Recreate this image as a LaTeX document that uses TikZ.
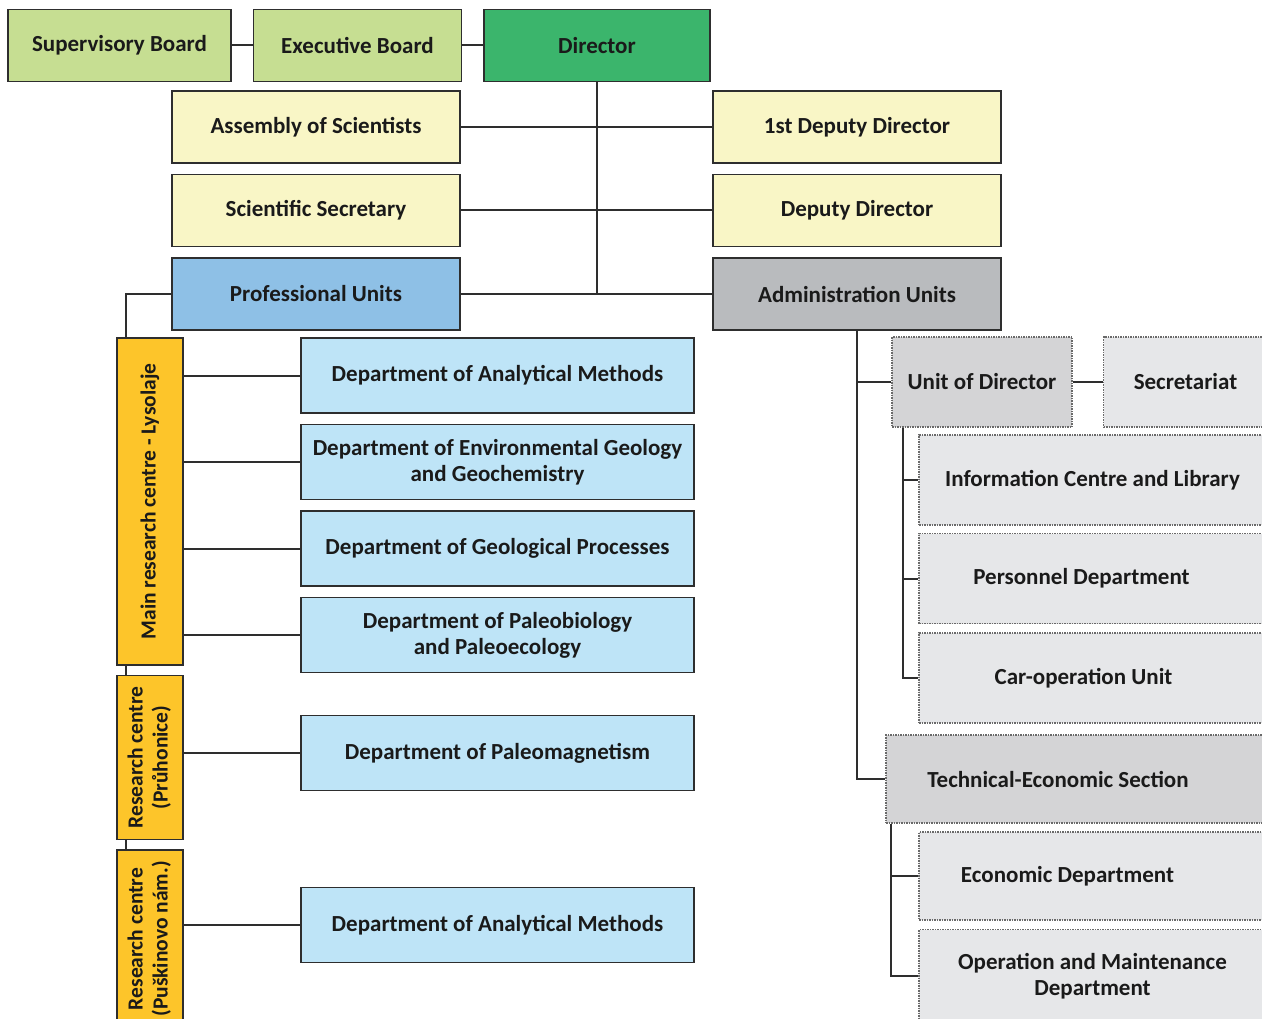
\documentclass[tikz,border=0pt]{standalone}
\usepackage{fontspec}
\setsansfont{Carlito}
\usetikzlibrary{positioning}

\definecolor{linedark}{HTML}{2E2E2E}
\definecolor{textdark}{HTML}{1A1A1A}
\definecolor{boardgreen}{HTML}{C6DE92}
\definecolor{dirgreen}{HTML}{3BB56C}
\definecolor{paleyellow}{HTML}{F9F6C6}
\definecolor{profblue}{HTML}{8EC0E6}
\definecolor{admgray}{HTML}{B9BBBE}
\definecolor{centreorange}{HTML}{FDC52A}
\definecolor{deptblue}{HTML}{BEE4F7}
\definecolor{unitgray}{HTML}{D4D4D6}
\definecolor{subgray}{HTML}{E6E7E9}
\definecolor{dotgray}{HTML}{6A6A6A}

\begin{document}
\begin{tikzpicture}[
      x=1pt, y=1pt,
      node distance=10pt and 21pt,
      every node/.style={font=\sffamily\bfseries\fontsize{23}{26}\selectfont, text=textdark},
      box/.style={draw=linedark, line width=1.5pt, rectangle, minimum height=72pt, inner sep=2pt, align=center},
      centre/.style={box, fill=centreorange, minimum width=66pt, font=\sffamily\bfseries\fontsize{21.5}{25}\selectfont},
      dept/.style={box, fill=deptblue, minimum width=393pt, minimum height=75pt},
      dbox/.style={box, draw=dotgray, densely dotted, minimum height=90pt},
      conn/.style={draw=linedark, line width=2pt}
    ]
    \useasboundingbox (0,0) rectangle (1262,-1019);

    % Nodes
    \node[box, fill=boardgreen, minimum width=223pt] (sup) at (119.5,-45.5) {Supervisory Board};
    \node[box, fill=boardgreen, minimum width=208pt, right=21pt of sup] (exe) {Executive Board};
    \node[box, fill=dirgreen, minimum width=226pt, right=21pt of exe] (dir) {Director};

    \node[box, fill=paleyellow, minimum width=288pt] (asm) at (316,-127) {Assembly of Scientists};
    \node[box, fill=paleyellow, minimum width=288pt, below=of asm] (sci) {Scientific Secretary};
    \node[box, fill=profblue, minimum width=288pt, below=of sci] (pro) {Professional Units};

    \node[box, fill=paleyellow, minimum width=288pt] (dep1) at (857,-127) {1st Deputy Director};
    \node[box, fill=paleyellow, minimum width=288pt, below=of dep1] (dep2) {Deputy Director};
    \node[box, fill=admgray, minimum width=288pt, below=of dep2] (adm) {Administration Units};

    % research centres
    \node[centre, minimum height=327pt] (main) at (150,-501.5)
      {\rotatebox{90}{Main research centre - Lysolaje}};
    \node[centre, minimum height=164pt, below=9pt of main] (pru)
      {\rotatebox{90}{\begin{tabular}{@{}c@{}}Research centre\\(Průhonice)\end{tabular}}};
    \node[centre, minimum height=178pt, below=9pt of pru] (pus)
      {\rotatebox{90}{\begin{tabular}{@{}c@{}}Research centre\\(Puškinovo nám.)\end{tabular}}};

    % departments
    \node[dept] (dam1) at (497.5,-375.5) {Department of Analytical Methods};
    \node[dept, below=of dam1] (env) {Department of Environmental Geology\\and Geochemistry};
    \node[dept, below=of env] (geo) {Department of Geological Processes};
    \node[dept, below=of geo] (pal) {Department of Paleobiology\\and Paleoecology};
    \node[dept] (mag) at (497.5,-753) {Department of Paleomagnetism};
    \node[dept] (dam2) at (497.5,-925) {Department of Analytical Methods};

    % administration
    \node[dbox, fill=unitgray, minimum width=180pt] (uod) at (982,-382) {Unit of Director};
    \node[dbox, fill=subgray, minimum width=164pt, right=30pt of uod] (sec) {Secretariat};
    \node[dbox, fill=subgray, minimum width=347pt] (info) at (1092.5,-480) {Information Centre and Library};
    \node[dbox, fill=subgray, minimum width=347pt, below=7pt of info] (pers) {Personnel Department\hspace*{22pt}};
    \node[dbox, fill=subgray, minimum width=347pt, below=8pt of pers] (car) {Car-operation Unit\hspace*{18pt}};
    \node[dbox, fill=unitgray, minimum width=380pt, minimum height=88pt] (tech) at (1076,-779) {Technical-Economic Section\hspace*{36pt}};
    \node[dbox, fill=subgray, minimum width=347pt, minimum height=88pt] (eco) at (1092.5,-876) {Economic Department\hspace*{50pt}};
    \node[dbox, fill=subgray, minimum width=347pt, minimum height=93pt] (ops) at (1092.5,-976) {Operation and Maintenance\\Department};

    % Lines
    \draw[conn] (sup) -- (exe);
    \draw[conn] (exe) -- (dir);
    \draw[conn] (dir.south) -- (dir.south |- pro.east);
    \draw[conn] (asm) -- (dep1);
    \draw[conn] (sci) -- (dep2);
    \draw[conn] (pro) -- (adm);

    \draw[conn] (pro.west) -| ([xshift=10pt]main.north west);
    \draw[conn] ([xshift=10pt]main.south west) -- ([xshift=10pt]pru.north west);
    \draw[conn] ([xshift=10pt]pru.south west) -- ([xshift=10pt]pus.north west);
    \foreach \d in {dam1, env, geo, pal}
      \draw[conn] (\d.west) -- (\d.west -| main.east);
    \draw[conn] (mag.west) -- (mag.west -| pru.east);
    \draw[conn] (dam2.west) -- (dam2.west -| pus.east);

    \draw[conn] (adm.south) |- (tech.west);
    \draw[conn] (adm.south |- uod.west) -- (uod.west);
    \draw[conn] (uod) -- (sec);
    \coordinate (uodtrunk) at ([xshift=12pt]uod.south west);
    \draw[conn] (uodtrunk) |- (car.west);
    \foreach \d in {info, pers}
      \draw[conn] (uodtrunk |- \d.west) -- (\d.west);
    \coordinate (techtrunk) at ([xshift=6pt]tech.south west);
    \draw[conn] (techtrunk) |- (ops.west);
    \draw[conn] (techtrunk |- eco.west) -- (eco.west);
\end{tikzpicture}
\end{document}
